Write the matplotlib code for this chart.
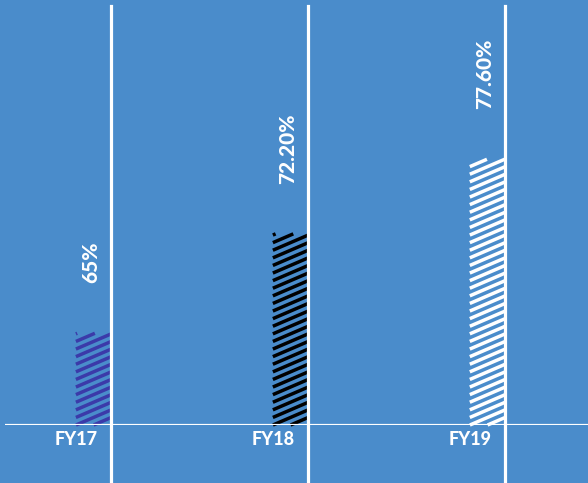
import matplotlib
matplotlib.use("Agg")
import matplotlib.pyplot as plt
import numpy as np
from matplotlib.collections import LineCollection
from matplotlib.transforms import IdentityTransform

# ── data ─────────────────────────────────────────────────────────────────────
years = ["FY17", "FY18", "FY19"]
values = [65.0, 72.2, 77.6]
value_labels = ["65%", "72.20%", "77.60%"]
stripe_colors = ["#3b3aa9", "#000000", "#ffffff"]

BG = "#4a8ccb"
FONT = ["Lato", "DejaVu Sans"]
BASE = 58.36

W, H = 588, 483
fig = plt.figure(figsize=(W / 100, H / 100), dpi=100, facecolor=BG)
ax = fig.add_axes([5 / W, 58 / H, 583 / W, 419 / H])
ax.set_facecolor(BG)

x = np.arange(len(years))
bar_w = 0.18
ax.set_xlim(-0.36, 2.6)
ax.set_ylim(BASE, 88.7)

bars = ax.bar(x, [v - BASE for v in values], bottom=BASE, width=bar_w,
              align="edge", fill=False, linewidth=0)


def clip_segment(x0, x1, y0, y1, b, slope):
    # line y = b + slope * (x - x0), cut to the box [x0, x1] x [y0, y1]
    xa = max(x0, x0 + (y0 - b) / slope)
    xb = min(x1, x0 + (y1 - b) / slope)
    if xb <= xa:
        return None
    return [(xa, b + slope * (xa - x0)), (xb, b + slope * (xb - x0))]


# shallow diagonal stripes inside each bar (pixel space)
slope, gap = 0.43, 7.6
for patch, col in zip(bars, stripe_colors):
    (x0, y0), (x1, y1) = ax.transData.transform(
        [(patch.get_x(), patch.get_y()),
         (patch.get_x() + patch.get_width(), patch.get_y() + patch.get_height())])
    segs = []
    for b in np.arange(y0 - (x1 - x0) * slope, y1 + gap, gap):
        s = clip_segment(x0, x1, y0, y1, b, slope)
        if s:
            segs.append(s)
    ax.add_collection(LineCollection(segs, colors=col, linewidths=2.5,
                                     transform=IdentityTransform(),
                                     capstyle="butt", clip_on=False))

# value labels, rotated above each bar
for xi, v, lab in zip(x, values, value_labels):
    ax.annotate(lab, (xi + bar_w / 2, v), xytext=(-2, 36),
                textcoords="offset points", rotation=90, ha="center",
                va="bottom", color="white", fontsize=15, fontweight="black",
                family=FONT)

# separators and baseline
for xi in x:
    ax.axvline(xi + bar_w, ymin=-58 / 419, ymax=1, color="white", lw=2.3,
               clip_on=False)
ax.axhline(BASE, color="white", lw=2.3)

ax.set_xticks(x)
ax.set_xticklabels(years, color="white", fontsize=13, fontweight="black",
                   family=FONT)
ax.tick_params(axis="x", length=0, pad=4)
ax.set_yticks([])
for s in ax.spines.values():
    s.set_visible(False)

fig.savefig("out.png", dpi=100, facecolor=BG)
